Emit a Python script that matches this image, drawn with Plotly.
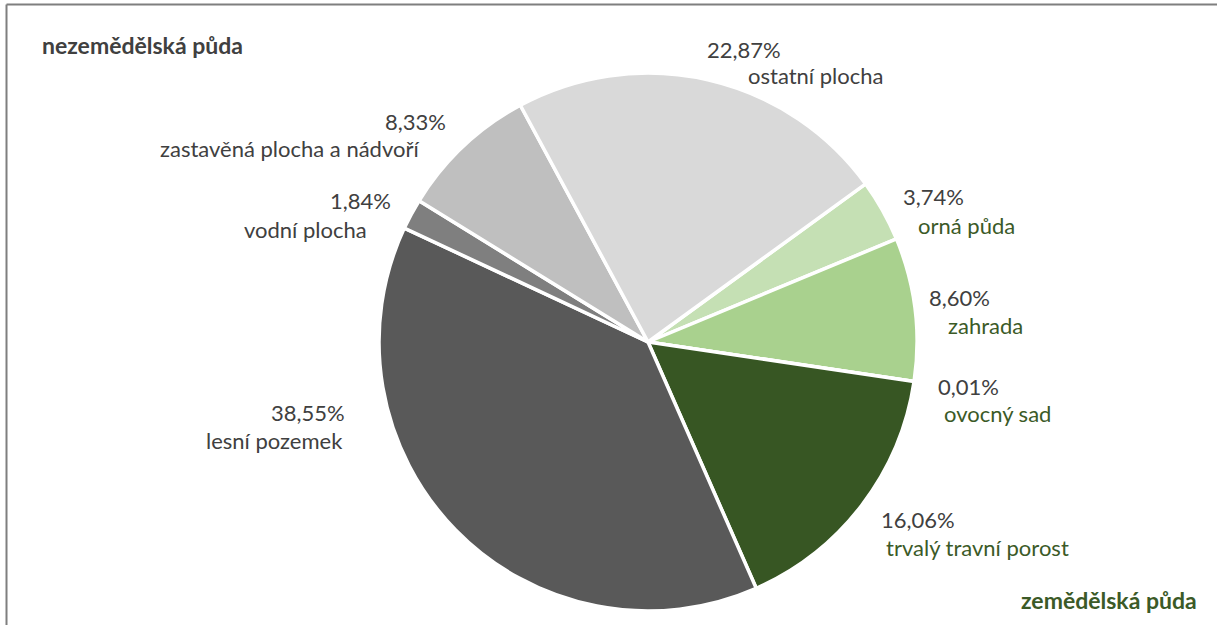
import plotly.graph_objects as go

# data
categories = ["orná půda", "zahrada", "ovocný sad", "trvalý travní porost",
              "lesní pozemek", "vodní plocha", "zastavěná plocha a nádvoří", "ostatní plocha"]
shares = [3.74, 8.60, 0.01, 16.06, 38.55, 1.84, 8.33, 22.87]
agricultural = [True, True, True, True, False, False, False, False]

slice_colors = ["#c5e0b4", "#a9d18e", "#548235", "#375623",
                "#595959", "#7f7f7f", "#bfbfbf", "#d9d9d9"]

W, H = 1217, 625
GREEN = "#3b5a27"
GRAY = "#404040"
FONT = "Lato"
SIZE = 22

# label placement in pixels: (pct_x, pct_y, name_x, name_y)
label_pos = {
    "orná půda": (934, 197, 966, 225),
    "zahrada": (959, 297, 985, 325),
    "ovocný sad": (968, 386, 997, 413),
    "trvalý travní porost": (918, 519, 977, 547),
    "lesní pozemek": (308, 412, 274, 440),
    "vodní plocha": (360, 200, 305, 229),
    "zastavěná plocha a nádvoří": (415, 121, 289, 148),
    "ostatní plocha": (744, 50, 815, 75),
}

cx, cy, r = 648, 342, 269

fig = go.Figure(go.Pie(
    labels=categories,
    values=shares,
    sort=False,
    direction="clockwise",
    rotation=54,
    marker=dict(colors=slice_colors, line=dict(color="white", width=3.5)),
    textinfo="none",
    hoverinfo="label+percent",
    showlegend=False,
    domain=dict(x=[(cx - r) / W, (cx + r) / W], y=[1 - (cy + r) / H, 1 - (cy - r) / H]),
))

annotations = []
for cat, val, agri in zip(categories, shares, agricultural):
    px, py, nx, ny = label_pos[cat]
    pct = f"{val:.2f}%".replace(".", ",")
    annotations.append(dict(x=px / W, y=1 - py / H, xref="paper", yref="paper",
                            text=pct, showarrow=False, xanchor="center", yanchor="middle",
                            font=dict(family=FONT, size=SIZE, color=GRAY)))
    annotations.append(dict(x=nx / W, y=1 - ny / H, xref="paper", yref="paper",
                            text=cat, showarrow=False, xanchor="center", yanchor="middle",
                            font=dict(family=FONT, size=SIZE, color=GREEN if agri else GRAY)))

annotations.append(dict(x=40 / W, y=1 - 45 / H, xref="paper", yref="paper",
                        text="<b>nezemědělská půda</b>", showarrow=False,
                        xanchor="left", yanchor="middle",
                        font=dict(family=FONT, size=23, color=GRAY)))
annotations.append(dict(x=1199 / W, y=1 - 600 / H, xref="paper", yref="paper",
                        text="<b>zemědělská půda</b>", showarrow=False,
                        xanchor="right", yanchor="middle",
                        font=dict(family=FONT, size=23, color=GREEN)))

# frame (only left and top edges visible in the crop)
shapes = [
    dict(type="line", xref="paper", yref="paper", x0=6.5 / W, x1=1.01, y0=1 - 4.5 / H, y1=1 - 4.5 / H,
         line=dict(color="#7f7f7f", width=2)),
    dict(type="line", xref="paper", yref="paper", x0=6.5 / W, x1=6.5 / W, y0=-0.01, y1=1 - 4.5 / H,
         line=dict(color="#7f7f7f", width=2)),
]

fig.update_layout(
    width=W, height=H,
    margin=dict(l=0, r=0, t=0, b=0),
    paper_bgcolor="white",
    plot_bgcolor="white",
    annotations=annotations,
    shapes=shapes,
)

# drop the default 8px page margin so the figure sits at the window origin
fig.write_html("out.html", config=dict(displayModeBar=False),
               post_script="document.body.style.margin='0';")
